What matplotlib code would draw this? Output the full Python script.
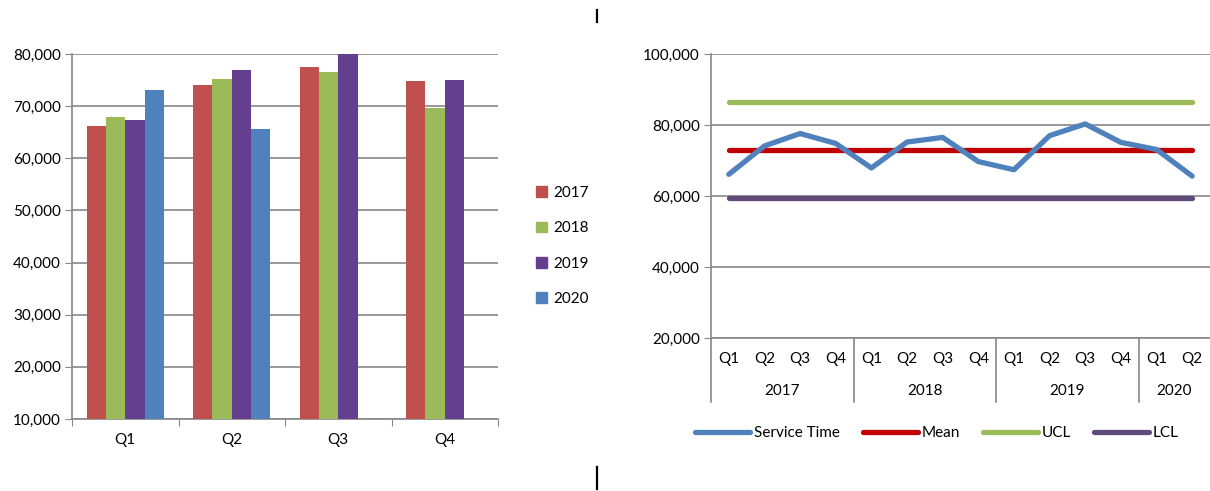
import numpy as np
import matplotlib
matplotlib.use('Agg')
import matplotlib.pyplot as plt
from matplotlib.lines import Line2D
from matplotlib.patches import Patch
from matplotlib.ticker import FuncFormatter

plt.rcParams['font.family'] = ['Lato', 'DejaVu Sans']
plt.rcParams['font.size'] = 11

# quarterly service time by year
quarters = ['Q1', 'Q2', 'Q3', 'Q4']
years = ['2017', '2018', '2019', '2020']
v2017 = [66100, 74100, 77600, 74800]
v2018 = [67900, 75200, 76500, 69700]
v2019 = [67400, 77000, 80300, 75100]
v2020 = [73100, 65600]

# control limits
mean_val = 72950
ucl_val = 86450
lcl_val = 59450

bar_colors = ['#C0504D', '#9BBB59', '#643F8F', '#4F81BD']
grid_col = '#888888'
fmt = FuncFormatter(lambda v, p: '{:,.0f}'.format(v))

fig = plt.figure(figsize=(12.1, 4.91), dpi=100)

# ---- clustered bars ----
ax1 = fig.add_axes([72/1210, 72/491, 426/1210, 365/491])
series = [v2017, v2018, v2019, v2020]
w = 1 / 5.5
for i, (vals, col) in enumerate(zip(series, bar_colors)):
    x = np.arange(len(vals)) + (i - 1.5) * w
    ax1.bar(x, vals, width=w, color=col, zorder=3)
ax1.set_ylim(10000, 80000)
ax1.set_xlim(-0.5, 3.5)
ax1.set_yticks(np.arange(10000, 80001, 10000))
ax1.yaxis.set_major_formatter(fmt)
ax1.set_xticks(np.arange(-0.5, 4, 1))
ax1.set_xticklabels([])
ax1.set_xticks(np.arange(4), minor=True)
ax1.set_xticklabels(quarters, minor=True)
ax1.tick_params(axis='x', which='major', length=5, color=grid_col, direction='out')
ax1.tick_params(axis='x', which='minor', length=0, pad=10)
ax1.tick_params(axis='y', length=5, color=grid_col, pad=3)
ax1.grid(axis='y', color=grid_col, linewidth=1.2, zorder=0)
for s in ['top', 'right']:
    ax1.spines[s].set_visible(False)
for s in ['left', 'bottom']:
    ax1.spines[s].set_color(grid_col)
    ax1.spines[s].set_linewidth(1.2)
handles = [Patch(color=c, label=y) for c, y in zip(bar_colors, years)]
ax1.legend(handles=handles, loc='center left', bbox_to_anchor=(1.09, 0.474),
           frameon=False, handlelength=0.7, handleheight=0.7,
           handletextpad=0.4, labelspacing=1.39, borderpad=0, borderaxespad=0)

# ---- control chart ----
service = v2017 + v2018 + v2019 + v2020
n = len(service)
labels = (quarters * 4)[:n]
group_sizes = [4, 4, 4, 2]

ax2 = fig.add_axes([711/1210, 153/491, 499/1210, 284/491])
xs = np.arange(n)
ax2.plot(xs, [ucl_val] * n, color='#9BBB59', lw=3.8, solid_capstyle='round', zorder=3, label='UCL')
ax2.plot(xs, [lcl_val] * n, color='#604A7B', lw=3.8, solid_capstyle='round', zorder=3, label='LCL')
ax2.plot(xs, [mean_val] * n, color='#C00000', lw=3.8, solid_capstyle='round', zorder=3, label='Mean')
ax2.plot(xs, service, color='#4F81BD', lw=3.8, solid_capstyle='round',
         solid_joinstyle='round', zorder=4, label='Service Time')
ax2.set_xlim(-0.5, n - 0.5)
ax2.set_ylim(20000, 100000)
ax2.set_yticks(np.arange(20000, 100001, 20000))
ax2.yaxis.set_major_formatter(fmt)
ax2.set_xticks([])
ax2.tick_params(axis='y', length=5, color=grid_col, pad=3)
ax2.grid(axis='y', color=grid_col, linewidth=1.2, zorder=0)
for s in ['top', 'right']:
    ax2.spines[s].set_visible(False)
for s in ['left', 'bottom']:
    ax2.spines[s].set_color(grid_col)
    ax2.spines[s].set_linewidth(1.2)

# two-level category axis
tr = ax2.get_xaxis_transform()
for x, lab in zip(xs, labels):
    ax2.text(x, -0.074, lab, transform=tr, ha='center', va='center')
start = 0
bounds = [-0.5]
for g, yr in zip(group_sizes, years):
    ax2.text(start + (g - 1) / 2, -0.187, yr, transform=tr, ha='center', va='center')
    start += g
    bounds.append(start - 0.5)
for b in bounds[:-1]:
    ax2.plot([b, b], [0, -0.225], transform=tr, color=grid_col, lw=1.2, clip_on=False)

hl = ax2.get_legend_handles_labels()
order = ['Service Time', 'Mean', 'UCL', 'LCL']
hmap = dict(zip(hl[1], hl[0]))
ax2.legend([hmap[k] for k in order], order, loc='center', bbox_to_anchor=(0.453, -0.334),
           ncol=4, frameon=False, handlelength=3.6, handletextpad=0.25, columnspacing=1.5)

# divider marks
fig.add_artist(Line2D([597/1210, 597/1210], [1 - 10/491, 1 - 22/491], color='black', lw=1.6))
fig.add_artist(Line2D([597/1210, 597/1210], [1 - 467/491, 1 - 489/491], color='black', lw=1.6))

fig.savefig('out.png', dpi=100)
